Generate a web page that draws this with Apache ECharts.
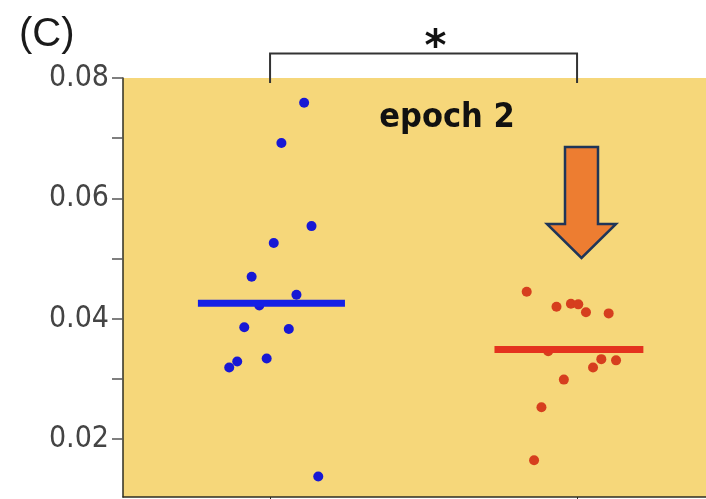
<!DOCTYPE html>
<html>
<head>
<meta charset="utf-8">
<script src="https://cdn.jsdelivr.net/npm/echarts@6/dist/echarts.min.js"></script>
<style>html,body{margin:0;padding:0;background:#fff;}#c{width:706px;height:499px;}</style>
</head>
<body>
<div id="c"></div>
<script>
// Group positions on x (1 = first group, 2 = second group)
const groupPos = [1, 2];
// Blue group (jittered x, value y)
const blueX = [1.111, 1.037, 1.135, 1.012, 0.940, 1.086, 0.965, 0.916, 1.061, 0.893, 0.867, 0.989, 1.157];
const blueY = [0.0759, 0.0692, 0.0554, 0.0526, 0.0470, 0.0440, 0.0422, 0.0386, 0.0383, 0.0329, 0.0319, 0.0334, 0.0138];
// Red group
const redX = [1.836, 1.933, 1.980, 2.004, 2.029, 2.103, 1.906, 2.079, 2.127, 2.052, 1.957, 1.884, 1.860];
const redY = [0.0445, 0.0420, 0.0425, 0.0424, 0.0411, 0.0409, 0.0346, 0.0333, 0.0331, 0.0319, 0.0299, 0.0253, 0.0165];
// Central lines
const blueMean = 0.0426;
const blueLineX = [0.765, 1.244];
const redMean = 0.0349;
const redLineX = [1.731, 2.216];
// Axis ticks / labels
const yTicks = [0.02, 0.03, 0.04, 0.05, 0.06, 0.07, 0.08];
const yLabels = [0.02, 0.04, 0.06, 0.08];
const panelLabel = '(C)';
const titleText = 'epoch 2';
const sigText = '*';

const chart = echarts.init(document.getElementById('c'), null, {renderer: 'canvas'});
const axisColor = '#2e2e22';
const labelFont = "'DejaVu Sans Condensed', 'DejaVu Sans', sans-serif";

const option = {
  animation: false,
  grid: {left: 123, right: 0, top: 78, bottom: 2, show: true, backgroundColor: '#F6D77A', borderWidth: 0},
  xAxis: {
    type: 'value', min: 0.521, max: 2.42,
    splitLine: {show: false},
    axisLine: {show: true, lineStyle: {color: axisColor, width: 1.5}},
    axisTick: {show: true, customValues: groupPos, length: 4, lineStyle: {color: axisColor}},
    axisLabel: {show: false}
  },
  yAxis: {
    type: 'value', min: 0.0104, max: 0.08,
    splitLine: {show: false},
    axisLine: {show: true, lineStyle: {color: axisColor, width: 1.5}},
    axisTick: {show: true, customValues: yTicks, length: 11, lineStyle: {color: '#555', width: 1.5}},
    axisLabel: {
      show: true, customValues: yLabels, margin: 14,
      color: '#444', fontSize: 30, fontFamily: labelFont,
      formatter: v => v.toFixed(2)
    }
  },
  series: [
    {
      type: 'scatter', symbolSize: 10, z: 2,
      itemStyle: {color: '#1818D4', opacity: 1},
      data: blueX.map((x, i) => [x, blueY[i]])
    },
    {
      type: 'scatter', symbolSize: 10, z: 2,
      itemStyle: {color: '#D63E1E', opacity: 1},
      data: redX.map((x, i) => [x, redY[i]])
    },
    {
      type: 'line', symbol: 'none', z: 3,
      lineStyle: {color: '#1420E6', width: 7, cap: 'butt'},
      data: blueLineX.map(x => [x, blueMean])
    },
    {
      type: 'line', symbol: 'none', z: 3,
      lineStyle: {color: '#E4321E', width: 7, cap: 'butt'},
      data: redLineX.map(x => [x, redMean])
    }
  ]
};
chart.setOption(option);

// Annotations positioned from the axes
const p1 = chart.convertToPixel({gridIndex: 0}, [groupPos[0], 0.08]);
const p2 = chart.convertToPixel({gridIndex: 0}, [groupPos[1], 0.08]);
const bracketY = 53.5;
const legBottom = 83;
chart.setOption({
  graphic: [
    {
      type: 'polyline', z: 10,
      shape: {points: [[p1[0], legBottom], [p1[0], bracketY], [p2[0], bracketY], [p2[0], legBottom]]},
      style: {stroke: '#333', lineWidth: 2, fill: null}
    },
    {
      type: 'text', z: 10, x: (p1[0] + p2[0]) / 2 + 12, y: 70,
      style: {text: sigText, fill: '#111', font: "bold 42px 'DejaVu Sans', sans-serif", align: 'center', verticalAlign: 'bottom'}
    },
    {
      type: 'text', z: 10, x: 19, y: 35,
      style: {text: panelLabel, fill: '#1a1a1a', font: "40px 'Liberation Sans', sans-serif", align: 'left', verticalAlign: 'middle'}
    },
    {
      type: 'text', z: 10, x: 447, y: 118,
      style: {text: titleText, fill: '#111', font: "bold 34px 'DejaVu Sans Condensed', 'DejaVu Sans', sans-serif", align: 'center', verticalAlign: 'middle'}
    },
    {
      type: 'polygon', z: 10,
      shape: {points: [[565, 147], [598, 147], [598, 224], [616, 224], [581.5, 258], [547, 224], [565, 224]]},
      style: {fill: '#ED7D31', stroke: '#1F3558', lineWidth: 2.5, lineJoin: 'miter'}
    }
  ]
});
</script>
</body>
</html>
